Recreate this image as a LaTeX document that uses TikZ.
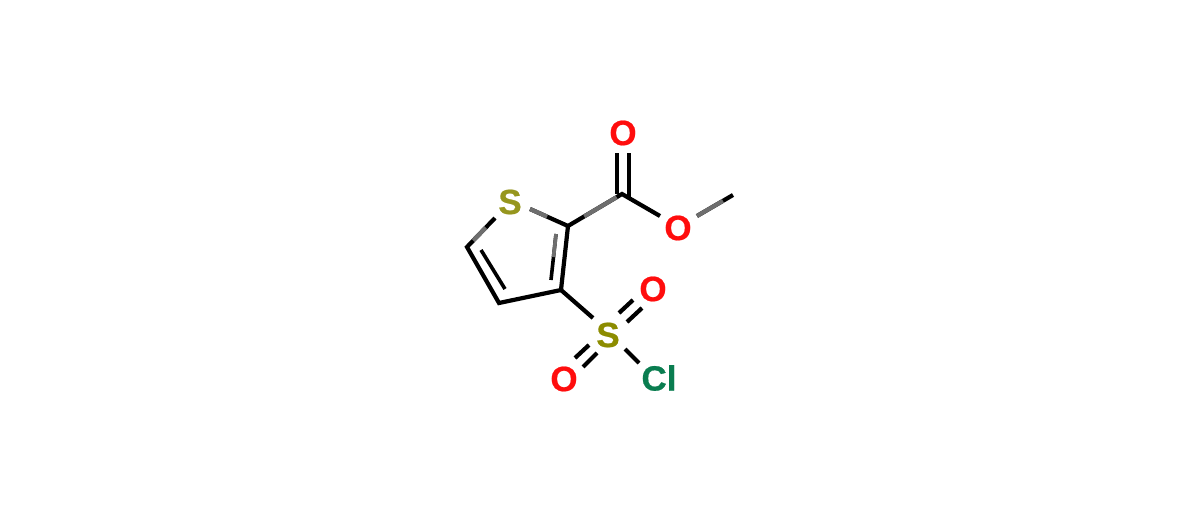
\documentclass[tikz,border=0pt]{standalone}
\usepackage{fontspec}
\setmainfont[BoldFeatures={FakeBold=0.6}]{Liberation Sans}
\usetikzlibrary{calc}
\definecolor{oxy}{RGB}{255,13,13}
\definecolor{sul}{RGB}{140,140,0}
\definecolor{sulb}{RGB}{150,150,30}
\definecolor{chl}{RGB}{10,125,80}
\definecolor{fade}{RGB}{110,110,110}
\tikzset{
  x=1pt,y=-1pt,
  bond/.style={line width=4.2pt,black,line cap=butt,line join=miter},
  inner/.style={line width=3.6pt,black,line cap=butt},
  faded/.style={line width=4.2pt,fade,line cap=butt},
  atom/.style={font=\bfseries\fontsize{35}{35}\selectfont,inner sep=0pt,outer sep=0pt},
}
\begin{document}
\begin{tikzpicture}
\useasboundingbox (0,0) rectangle (1200,511);
% atom labels
\node[atom,text=sulb] (S1) at (510,202) {S};
\node[atom,text=oxy] (O1) at (623,133) {O};
\node[atom,text=oxy] (O2) at (678,228) {O};
\node[atom,text=sul] (S2) at (608,335) {S};
\node[atom,text=oxy] (O3) at (653,289) {O};
\node[atom,text=oxy] (O4) at (564,379) {O};
\node[atom,text=chl] (Cl) at (659,378) {Cl};
% carbon vertices and free bond ends
\coordinate (C2) at (568,226);
\coordinate (C3) at (561,290);
\coordinate (C4) at (499,303);
\coordinate (C5) at (467,247);
\coordinate (C6) at (622,194);
\coordinate (Me) at (733,195);
\coordinate (S1a) at (495,218);
\coordinate (S1b) at (530,209);
\coordinate (O2a) at (660,216);
\coordinate (O2b) at (697,216);
\coordinate (S2a) at (593,318);
\coordinate (S2b) at (625,349);
\coordinate (Cle) at (639,363);
% ring
\draw[bond] (S1a) -- (C5) -- (C4) -- (C3) -- (C2) -- (S1b);
\coordinate (i1) at (481,250); \coordinate (i2) at (505,289);
\draw[inner] (i1) -- (i2);
\coordinate (i3) at (556,234); \coordinate (i4) at (551,280);
\draw[inner] (i3) -- (i4);
% ester
\draw[bond] (C2) -- (C6) -- (O2a);
\coordinate (d1) at (617,153); \coordinate (d2) at (617,194);
\coordinate (d3) at (629,153); \coordinate (d4) at (629,197);
\draw[bond] (d1) -- (d2);
\draw[bond] (d3) -- (d4);
\draw[bond] (O2b) -- (Me);
% sulfonyl
\draw[bond] (C3) -- (S2a);
\coordinate (e1) at (619,313); \coordinate (e2) at (633,300);
\coordinate (e3) at (627,322); \coordinate (e4) at (642,308);
\draw[bond] (e1) -- (e2);
\draw[bond] (e3) -- (e4);
\coordinate (f1) at (575,358); \coordinate (f2) at (589,345);
\coordinate (f3) at (583,367); \coordinate (f4) at (597,353);
\draw[bond] (f1) -- (f2);
\draw[bond] (f3) -- (f4);
\draw[bond] (S2b) -- (Cle);
% faded stretches of the bonds
\draw[faded] ($(S1a)!0.33!(C5)$) -- ($(S1a)!0.78!(C5)$);
\draw[faded] (S1b) -- ($(S1b)!0.45!(C2)$);
\draw[faded] ($(C2)!0.3!(C6)$) -- ($(C2)!0.9!(C6)$);
\draw[faded,line width=3.6pt] (i3) -- ($(i3)!0.5!(i4)$);
\draw[faded] (O2b) -- ($(O2b)!0.72!(Me)$);
\end{tikzpicture}
\end{document}
